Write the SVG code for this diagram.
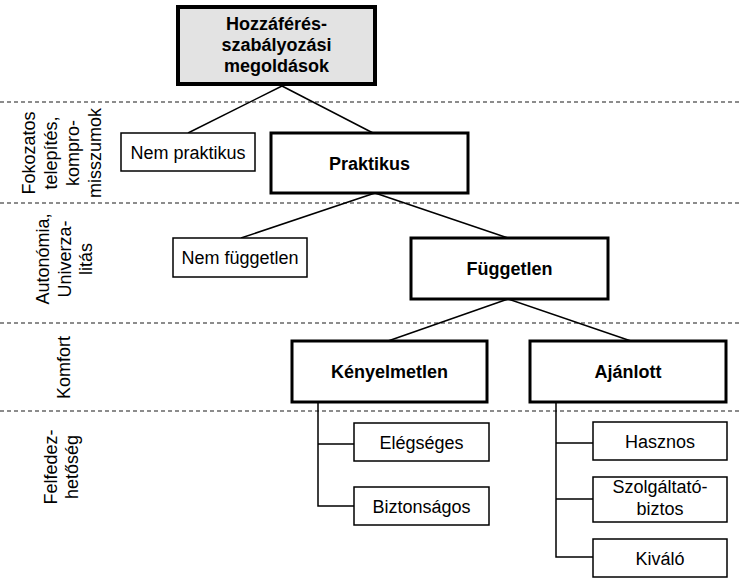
<svg xmlns="http://www.w3.org/2000/svg" width="741" height="578" viewBox="0 0 741 578">
<style>
.t{font-family:"Liberation Sans",Arial,sans-serif;font-size:18px;fill:#000;text-anchor:middle}
.b{font-weight:bold}
.thin{fill:#fff;stroke:#000;stroke-width:1.5}
.thick{fill:#fff;stroke:#000;stroke-width:3}
.dash{stroke:#8c8c8c;stroke-width:2;stroke-dasharray:4 3;fill:none}
.c{stroke:#000;stroke-width:1.5;fill:none}
</style>
<g id="bands">
<line class="dash" x1="0" y1="102" x2="741" y2="102"/>
<line class="dash" x1="0" y1="203" x2="741" y2="203"/>
<line class="dash" x1="0" y1="323" x2="741" y2="323"/>
<line class="dash" x1="0" y1="411" x2="741" y2="411"/>
</g>
<g id="labels">
<g transform="translate(0,153) rotate(-90)">
<text class="t" x="0" y="35">Fokozatos</text>
<text class="t" x="0" y="57">telepítés,</text>
<text class="t" x="0" y="79">kompro-</text>
<text class="t" x="0" y="101">misszumok</text>
</g>
<g transform="translate(0,259) rotate(-90)">
<text class="t" x="0" y="49">Autonómia,</text>
<text class="t" x="0" y="71">Univerza-</text>
<text class="t" x="0" y="92">litás</text>
</g>
<g transform="translate(0,367.5) rotate(-90)">
<text class="t" x="0" y="70">Komfort</text>
</g>
<g transform="translate(0,467) rotate(-90)">
<text class="t" x="0" y="57">Felfedez-</text>
<text class="t" x="0" y="78">hetőség</text>
</g>
</g>
<g id="connectors">
<line class="c" x1="282" y1="86" x2="188" y2="133"/>
<line class="c" x1="282" y1="86" x2="373" y2="133"/>
<line class="c" x1="375" y1="193" x2="241" y2="238"/>
<line class="c" x1="375" y1="193" x2="508" y2="238"/>
<line class="c" x1="508" y1="299" x2="388" y2="341"/>
<line class="c" x1="508" y1="299" x2="631" y2="341"/>
<path class="c" d="M318,402 V506 H354 M318,444 H354"/>
<path class="c" d="M556,402 V557 H593 M556,443 H593 M556,499 H593"/>
</g>
<g id="root">
<rect x="178" y="7" width="197" height="77" fill="#e3e3e3" stroke="#000" stroke-width="4"/>
<text class="t b" x="276.5" y="30">Hozzáférés-</text>
<text class="t b" x="276.5" y="51">szabályozási</text>
<text class="t b" x="276.5" y="72">megoldások</text>
</g>
<g id="nem-praktikus">
<rect class="thin" x="121" y="133" width="134" height="38"/>
<text class="t" x="188" y="158.5">Nem praktikus</text>
</g>
<g id="praktikus">
<rect class="thick" x="271" y="133" width="197" height="60"/>
<text class="t b" x="369.5" y="169.5">Praktikus</text>
</g>
<g id="nem-fuggetlen">
<rect class="thin" x="173" y="238" width="134" height="39"/>
<text class="t" x="240" y="264">Nem független</text>
</g>
<g id="fuggetlen">
<rect class="thick" x="411" y="238" width="197" height="61"/>
<text class="t b" x="509.5" y="275">Független</text>
</g>
<g id="kenyelmetlen">
<rect class="thick" x="292" y="341" width="195" height="61"/>
<text class="t b" x="389.5" y="378">Kényelmetlen</text>
</g>
<g id="ajanlott">
<rect class="thick" x="530" y="341" width="196" height="61"/>
<text class="t b" x="628" y="378">Ajánlott</text>
</g>
<g id="elegseges">
<rect class="thin" x="354" y="423" width="135" height="38"/>
<text class="t" x="421.5" y="448.5">Elégséges</text>
</g>
<g id="biztonsagos">
<rect class="thin" x="354" y="487" width="135" height="38"/>
<text class="t" x="421.5" y="512.5">Biztonságos</text>
</g>
<g id="hasznos">
<rect class="thin" x="593" y="422" width="134" height="38"/>
<text class="t" x="660" y="447.5">Hasznos</text>
</g>
<g id="szolgaltato">
<rect class="thin" x="593" y="477" width="134" height="45"/>
<text class="t" x="660" y="493">Szolgáltató-</text>
<text class="t" x="660" y="515">biztos</text>
</g>
<g id="kivalo">
<rect class="thin" x="593" y="539" width="134" height="38"/>
<text class="t" x="660" y="564.5">Kiváló</text>
</g>
</svg>
